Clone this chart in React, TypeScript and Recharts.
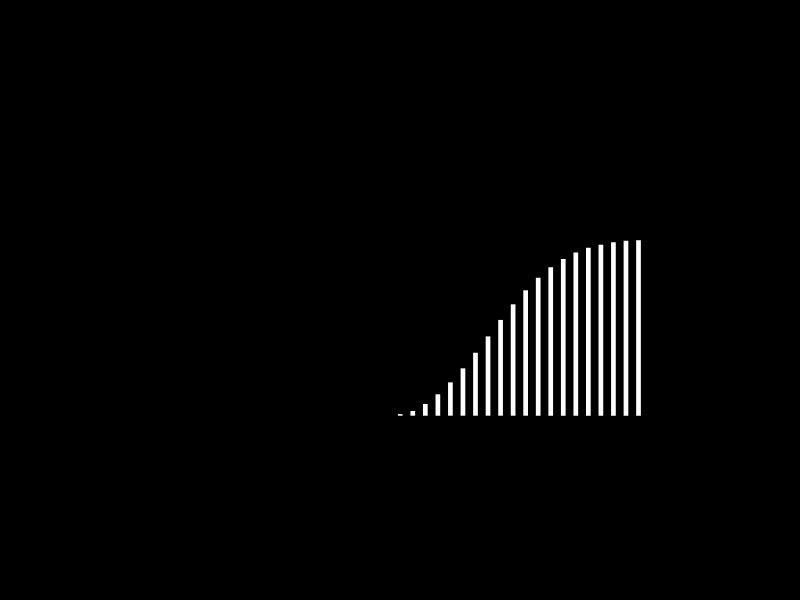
import React from "react";
import { BarChart, Bar, XAxis, YAxis } from "recharts";

const categories = ["1","2","3","4","5","6","7","8","9","10","11","12","13","14","15","16","17","18","19","20"];
const values = [0.9, 2.7, 6.7, 12.2, 19.0, 27.0, 35.9, 45.2, 54.6, 63.5, 71.5, 78.7, 84.6, 89.4, 93.0, 95.7, 97.5, 98.9, 99.7, 100];

const data = categories.map((c, i) => ({ name: c, value: values[i] }));

export default function App() {
  return (
    <div style={{ position: "fixed", left: 0, top: 0, width: 800, height: 600, background: "#000" }}>
      <BarChart
        width={800}
        height={600}
        data={data}
        margin={{ top: 240.3, bottom: 184.3, left: 393.9, right: 155.3 }}
        barSize={4.7}
      >
        <XAxis dataKey="name" hide />
        <YAxis hide domain={[0, 100]} />
        <Bar dataKey="value" fill="#ffffff" isAnimationActive={false} />
      </BarChart>
    </div>
  );
}
